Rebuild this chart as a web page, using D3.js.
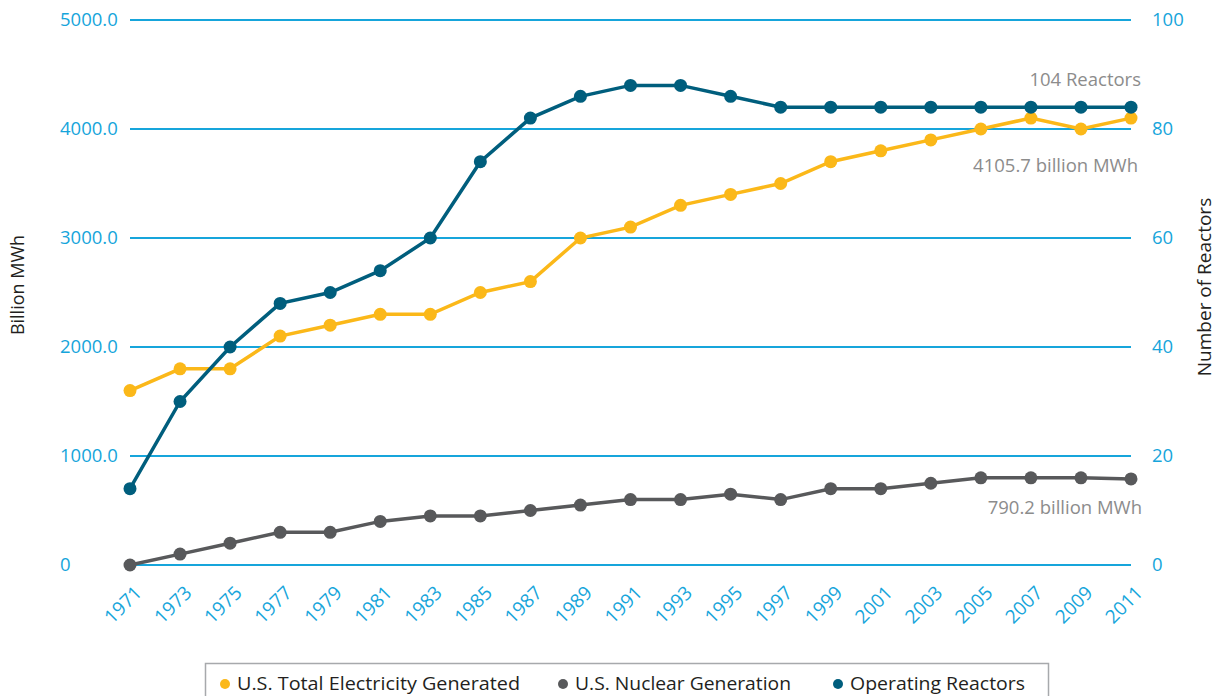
<!DOCTYPE html>
<html lang="en">
<head>
<meta charset="UTF-8">
<title>U.S. Electricity and Nuclear Generation</title>
<script src="https://cdn.jsdelivr.net/npm/d3@7"></script>
<style>
  body { margin: 0; background: #fff; }
  svg text { font-family: "Open Sans", "Noto Sans", sans-serif; }
</style>
</head>
<body>
<script>
// data
var years = [1971, 1973, 1975, 1977, 1979, 1981, 1983, 1985, 1987, 1989, 1991,
             1993, 1995, 1997, 1999, 2001, 2003, 2005, 2007, 2009, 2011];
var totalGen = [1600, 1800, 1800, 2100, 2200, 2300, 2300, 2500, 2600, 3000, 3100,
                3300, 3400, 3500, 3700, 3800, 3900, 4000, 4100, 4000, 4100];
var nuclearGen = [0, 100, 200, 300, 300, 400, 450, 450, 500, 550, 600,
                  600, 650, 600, 700, 700, 750, 800, 800, 800, 790];
var reactors = [14, 30, 40, 48, 50, 54, 60, 74, 82, 86, 88,
                88, 86, 84, 84, 84, 84, 84, 84, 84, 84];
var leftTicks = [0, 1000, 2000, 3000, 4000, 5000];
var rightTicks = [0, 20, 40, 60, 80, 100];
var legendNames = ['U.S. Total Electricity Generated', 'U.S. Nuclear Generation', 'Operating Reactors'];

var width = 1219, height = 696;
var margin = { top: 20, right: 88, bottom: 131, left: 130 };
var cyan = '#16a5db';
var colors = ['#fbb819', '#58595b', '#005e7d'];

var svg = d3.select('body').append('svg')
    .attr('width', width)
    .attr('height', height);

var x = d3.scalePoint().domain(years).range([margin.left, width - margin.right]);
var yL = d3.scaleLinear().domain([0, 5000]).range([height - margin.bottom, margin.top]);
var yR = d3.scaleLinear().domain([0, 100]).range([height - margin.bottom, margin.top]);

// grid lines
svg.append('g').selectAll('line')
    .data(leftTicks).enter().append('line')
    .attr('x1', margin.left)
    .attr('x2', width - margin.right)
    .attr('y1', function(d) { return yL(d); })
    .attr('y2', function(d) { return yL(d); })
    .attr('stroke', cyan)
    .attr('stroke-width', 2);

// left tick labels (left aligned)
svg.append('g').selectAll('text')
    .data(leftTicks).enter().append('text')
    .attr('x', 60)
    .attr('y', function(d) { return yL(d); })
    .attr('dy', '0.35em')
    .attr('fill', cyan)
    .attr('font-size', '18.5px')
    .text(function(d) { return d === 0 ? '0' : d3.format('.1f')(d); });

// right tick labels
svg.append('g').selectAll('text')
    .data(rightTicks).enter().append('text')
    .attr('x', 1152)
    .attr('y', function(d) { return yR(d); })
    .attr('dy', '0.35em')
    .attr('fill', cyan)
    .attr('font-size', '18.5px')
    .text(function(d) { return d; });

// x axis labels, rotated
svg.append('g').selectAll('text')
    .data(years).enter().append('text')
    .attr('transform', function(d) {
        return 'translate(' + (x(d) + 13) + ',' + 594 + ') rotate(-45)';
    })
    .attr('text-anchor', 'end')
    .attr('fill', cyan)
    .attr('font-size', '19px')
    .text(function(d) { return d; });

// axis titles
svg.append('text')
    .attr('transform', 'translate(24,285) rotate(-90)')
    .attr('text-anchor', 'middle')
    .attr('fill', '#231f20')
    .attr('font-size', '18px')
    .text('Billion MWh');
svg.append('text')
    .attr('transform', 'translate(1211,287) rotate(-90)')
    .attr('text-anchor', 'middle')
    .attr('fill', '#231f20')
    .attr('font-size', '19px')
    .text('Number of Reactors');

// series
function drawSeries(values, scale, color) {
    var pts = years.map(function(yr, i) { return [yr, values[i]]; });
    var line = d3.line()
        .x(function(d) { return x(d[0]); })
        .y(function(d) { return scale(d[1]); });
    var g = svg.append('g');
    g.append('path')
        .datum(pts)
        .attr('d', line)
        .attr('fill', 'none')
        .attr('stroke', color)
        .attr('stroke-width', 3.5);
    g.selectAll('circle')
        .data(pts).enter().append('circle')
        .attr('cx', function(d) { return x(d[0]); })
        .attr('cy', function(d) { return scale(d[1]); })
        .attr('r', 6.5)
        .attr('fill', color);
}
drawSeries(totalGen, yL, colors[0]);
drawSeries(nuclearGen, yL, colors[1]);
drawSeries(reactors, yR, colors[2]);

// annotations
var notes = [
    { t: '104 Reactors', x: 1141, y: 80 },
    { t: '4105.7 billion MWh', x: 1138, y: 166 },
    { t: '790.2 billion MWh', x: 1142, y: 508 }
];
svg.append('g').selectAll('text')
    .data(notes).enter().append('text')
    .attr('x', function(d) { return d.x; })
    .attr('y', function(d) { return d.y; })
    .attr('dy', '0.35em')
    .attr('text-anchor', 'end')
    .attr('fill', '#8c8c8c')
    .attr('font-size', '18.5px')
    .text(function(d) { return d.t; });

// legend
svg.append('rect')
    .attr('x', 205.5).attr('y', 663.5)
    .attr('width', 843).attr('height', 50)
    .attr('fill', 'none')
    .attr('stroke', '#a7a9ac')
    .attr('stroke-width', 1.5);
var legendX = [225, 563, 838];
var leg = svg.append('g').selectAll('g')
    .data(legendNames).enter().append('g')
    .attr('transform', function(d, i) { return 'translate(' + legendX[i] + ',684)'; });
leg.append('circle')
    .attr('r', 5)
    .attr('fill', function(d, i) { return colors[i]; });
leg.append('text')
    .attr('x', 12)
    .attr('dy', '0.35em')
    .attr('fill', '#231f20')
    .attr('font-size', '18px')
    .attr('textLength', function(d, i) { return [283, 216, 175][i]; })
    .attr('lengthAdjust', 'spacingAndGlyphs')
    .text(function(d) { return d; });
</script>
</body>
</html>
